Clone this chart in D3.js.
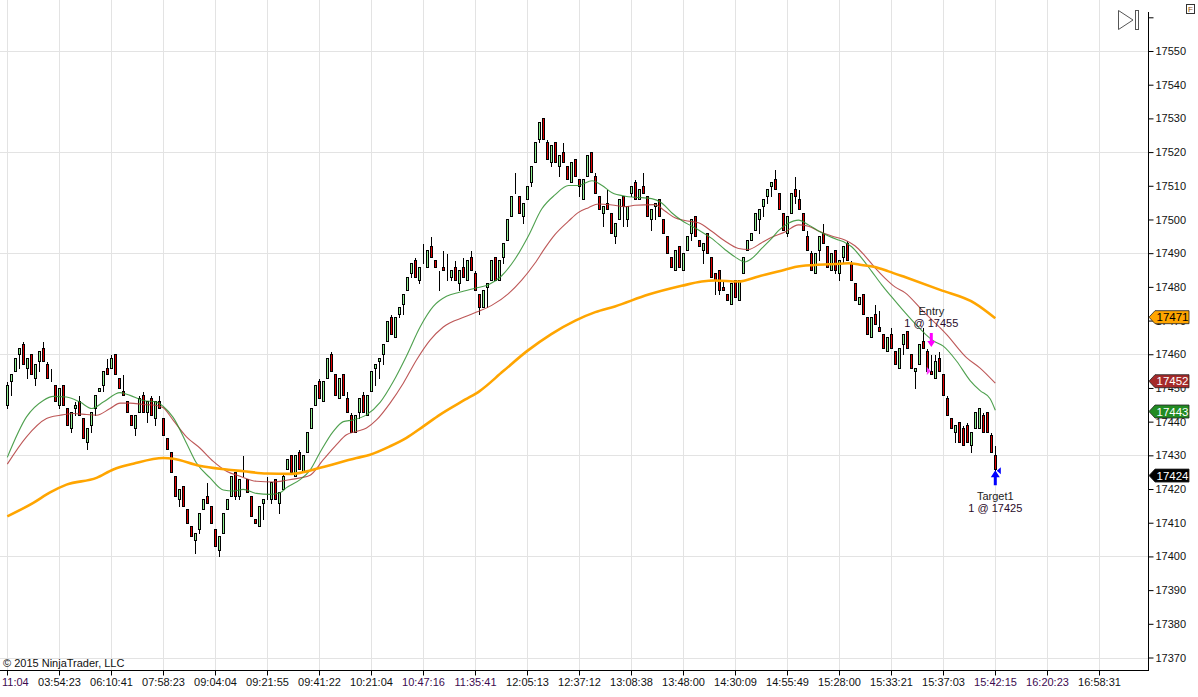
<!DOCTYPE html>
<html>
<head>
<meta charset="utf-8">
<script src="https://cdn.jsdelivr.net/npm/d3@7"></script>
<style>
  html, body { margin: 0; padding: 0; background: #fff; }
  svg { display: block; font-family: "Liberation Sans", Arial, sans-serif; }
</style>
</head>
<body>
<svg id="chart" width="1198" height="697"></svg>
<script>
// bar-by-bar prices (YM, 1 point ticks)
const opens = [
  17445,17452,17455,17460,17463,17456,17460,17453,17458,17462,
  17457,17452,17451,17445,17451,17444,17438,17444,17446,17441,
  17434,17439,17444,17449,17451,17456,17456,17460,17453,17449,
  17446,17442,17438,17443,17448,17443,17447,17441,17446,17441,
  17435,17431,17424,17417,17421,17414,17409,17405,17408,17414,
  17418,17415,17408,17402,17407,17414,17418,17425,17418,17424,
  17423,17418,17411,17409,17416,17418,17417,17423,17416,17420,
  17426,17430,17424,17431,17425,17431,17438,17445,17452,17446,
  17453,17460,17454,17447,17454,17447,17442,17437,17443,17448,
  17442,17449,17456,17458,17460,17464,17471,17465,17472,17475,
  17479,17484,17488,17482,17487,17486,17492,17488,17485,17486,
  17485,17483,17486,17481,17486,17482,17489,17484,17478,17474,
  17480,17482,17489,17482,17489,17494,17501,17508,17507,17501,
  17506,17511,17517,17524,17530,17523,17517,17523,17516,17520,
  17516,17511,17518,17512,17506,17513,17520,17513,17507,17502,
  17505,17502,17495,17500,17507,17500,17508,17511,17506,17510,
  17507,17500,17504,17506,17500,17495,17489,17485,17492,17485,
  17491,17496,17501,17494,17491,17496,17489,17484,17485,17480,
  17478,17475,17482,17476,17484,17491,17494,17497,17500,17504,
  17507,17510,17512,17508,17502,17496,17502,17509,17506,17502,
  17495,17490,17484,17491,17496,17492,17485,17491,17484,17489,
  17493,17487,17481,17475,17478,17471,17465,17472,17468,17466,
  17461,17466,17461,17456,17463,17467,17460,17455,17457,17464,
  17461,17455,17453,17459,17454,17447,17441,17437,17440,17438,
  17439,17433,17438,17438,17442,17443,17436,17430
];
const highs = [
  17452,17454,17459,17462,17464,17459,17460,17457,17461,17464,
  17458,17456,17451,17450,17451,17444,17443,17446,17448,17441,
  17438,17443,17448,17450,17455,17459,17460,17460,17453,17454,
  17446,17442,17442,17448,17449,17446,17448,17446,17448,17441,
  17435,17431,17424,17420,17421,17414,17409,17407,17413,17417,
  17422,17415,17408,17406,17413,17417,17424,17425,17423,17430,
  17423,17418,17411,17415,17417,17424,17422,17423,17419,17425,
  17429,17430,17430,17432,17430,17437,17444,17451,17453,17452,
  17459,17461,17454,17453,17454,17449,17443,17442,17447,17449,
  17448,17455,17457,17459,17463,17470,17472,17471,17474,17478,
  17483,17487,17489,17486,17493,17491,17495,17488,17485,17491,
  17490,17485,17488,17485,17489,17488,17491,17485,17478,17479,
  17481,17488,17489,17488,17493,17500,17507,17514,17507,17505,
  17510,17516,17523,17529,17530,17524,17522,17523,17519,17523,
  17516,17517,17518,17512,17512,17519,17520,17514,17507,17504,
  17509,17502,17499,17506,17507,17504,17510,17512,17509,17514,
  17507,17503,17505,17506,17500,17495,17489,17491,17492,17490,
  17495,17500,17501,17494,17493,17496,17489,17484,17485,17482,
  17478,17481,17482,17482,17489,17494,17496,17502,17503,17506,
  17509,17511,17515,17508,17502,17501,17508,17513,17509,17502,
  17497,17491,17490,17495,17499,17492,17490,17491,17488,17492,
  17494,17488,17481,17477,17478,17471,17471,17475,17473,17466,
  17465,17468,17461,17462,17466,17467,17460,17456,17463,17468,
  17462,17460,17460,17461,17454,17448,17441,17439,17440,17439,
  17440,17437,17443,17444,17443,17443,17437,17433
];
const lows = [
  17444,17448,17455,17456,17457,17453,17454,17451,17455,17458,
  17453,17452,17446,17444,17445,17439,17437,17442,17442,17435,
  17432,17437,17442,17449,17449,17454,17456,17454,17450,17448,
  17443,17439,17436,17443,17443,17440,17442,17439,17444,17436,
  17432,17425,17418,17415,17415,17410,17406,17401,17407,17414,
  17416,17410,17403,17400,17407,17414,17418,17417,17417,17424,
  17419,17412,17410,17409,17411,17417,17416,17417,17413,17420,
  17426,17425,17424,17426,17425,17431,17438,17445,17447,17446,
  17453,17455,17448,17447,17448,17443,17437,17437,17441,17443,
  17442,17449,17451,17453,17457,17464,17466,17465,17471,17472,
  17479,17483,17483,17481,17487,17486,17489,17486,17479,17485,
  17482,17482,17482,17479,17483,17482,17485,17479,17472,17474,
  17474,17482,17482,17482,17487,17494,17501,17508,17502,17499,
  17506,17510,17517,17523,17524,17518,17516,17517,17513,17517,
  17512,17511,17513,17507,17506,17513,17514,17508,17503,17498,
  17503,17496,17493,17500,17498,17498,17507,17506,17506,17508,
  17501,17497,17500,17501,17496,17490,17486,17485,17486,17485,
  17491,17494,17495,17492,17487,17490,17483,17478,17478,17479,
  17476,17475,17477,17476,17484,17491,17494,17497,17496,17501,
  17505,17507,17509,17503,17497,17495,17502,17505,17503,17497,
  17491,17485,17484,17488,17493,17486,17485,17484,17482,17487,
  17488,17482,17476,17475,17472,17466,17465,17469,17467,17462,
  17461,17462,17457,17456,17460,17462,17456,17450,17457,17462,
  17455,17454,17453,17455,17448,17442,17438,17434,17434,17433,
  17434,17431,17438,17438,17437,17437,17431,17425
];
const closes = [
  17451,17454,17459,17462,17457,17459,17454,17457,17461,17458,
  17453,17452,17446,17450,17445,17439,17443,17445,17442,17435,
  17438,17443,17448,17450,17455,17454,17459,17454,17450,17448,
  17443,17439,17442,17447,17443,17446,17442,17446,17444,17436,
  17432,17425,17418,17420,17415,17410,17406,17407,17413,17417,
  17416,17410,17403,17406,17413,17417,17424,17418,17423,17424,
  17419,17412,17410,17415,17417,17418,17422,17417,17419,17424,
  17429,17425,17430,17426,17430,17437,17444,17451,17447,17452,
  17459,17455,17448,17453,17448,17443,17437,17442,17447,17443,
  17448,17455,17457,17459,17463,17470,17466,17471,17474,17478,
  17483,17487,17483,17486,17487,17491,17489,17486,17485,17485,
  17485,17485,17482,17485,17483,17488,17485,17479,17474,17479,
  17481,17488,17482,17488,17493,17500,17507,17508,17502,17505,
  17510,17516,17523,17529,17524,17518,17522,17517,17519,17517,
  17512,17517,17513,17510,17512,17519,17514,17508,17503,17504,
  17503,17496,17499,17506,17504,17504,17510,17506,17509,17508,
  17501,17503,17505,17501,17496,17490,17486,17491,17486,17490,
  17495,17500,17495,17492,17493,17490,17483,17482,17479,17479,
  17476,17481,17477,17482,17489,17494,17496,17502,17503,17506,
  17509,17511,17509,17503,17497,17501,17508,17507,17503,17497,
  17491,17485,17490,17495,17493,17486,17490,17485,17488,17492,
  17488,17482,17476,17477,17472,17466,17471,17469,17467,17462,
  17465,17462,17457,17462,17466,17462,17456,17456,17463,17462,
  17455,17454,17458,17455,17448,17442,17438,17439,17434,17433,
  17434,17437,17443,17444,17437,17437,17431,17426
];

// moving averages, [bar index, value] read at points along each line
const fastMA = [
  [0,17429.4],[4.8,17441.4],[9,17446.3],[11.5,17447.5],[14.8,17447.3],[18.2,17445.8],
  [21.1,17443.9],[24,17445.8],[28.2,17448.6],[30.7,17447.8],[34,17446.3],[37.3,17445.8],
  [39,17444.5],[41.5,17441.2],[44.8,17433.6],[47.3,17427.7],[50.7,17423.3],[54,17419.7],
  [56.5,17419.4],[59,17419.9],[62.3,17418.7],[65.7,17418.4],[68.2,17418.9],[69.8,17420.4],
  [73.2,17422.8],[75.7,17425.6],[78.2,17430.9],[81.5,17437.1],[84,17440],[86.5,17440.5],
  [89.8,17442],[93.2,17445.7],[96.5,17451.9],[99.8,17459.5],[103.2,17468.1],[106.5,17474.2],
  [109.8,17477.2],[113,17478.4],[116.9,17479.6],[120.3,17480.6],[123.6,17483.3],[126.9,17488.2],
  [130.3,17495.2],[133.6,17503.1],[136.9,17507.3],[140.3,17510.1],[142.8,17510.1],[146.2,17511.5],
  [148.7,17510.1],[151.2,17507.9],[154.5,17506.9],[156.9,17506.6],[161.1,17506.2],[163.6,17504.9],
  [166.1,17502],[168.6,17499.7],[171.1,17498],[173.6,17496.3],[176.1,17494.4],[179.4,17491.1],
  [181.9,17488.9],[184.4,17487.4],[186.1,17488.4],[188.6,17491.4],[191.1,17494.4],[192.8,17496.7],
  [195.3,17498.9],[197.8,17499.8],[200.3,17498.4],[202.8,17496.6],[205.3,17495.1],[207.8,17493.9],
  [209.4,17493.2],[211.1,17491.9],[213.6,17488.5],[216.1,17484.6],[218.6,17480.6],[221.1,17477],
  [224.4,17472.4],[227,17469],[229.5,17466],[231.5,17464],[234,17462.4],[237.3,17458],
  [240.7,17452.2],[243.2,17449.2],[245.7,17446.8],[247,17443.4]
];
const slowMA = [
  [0,17427.4],[4.8,17435.5],[9.8,17440.9],[13.2,17441.9],[16.5,17442.4],[19.8,17442.1],
  [22.3,17441.9],[25.7,17443.9],[28.2,17445.5],[30.7,17445.5],[34,17445.1],[37.3,17444.8],
  [39,17444.1],[41.5,17440.4],[44.8,17435.5],[48.2,17432.1],[51.5,17428.2],[54.8,17425.3],
  [58.2,17423.8],[62.3,17422.3],[66.5,17422.1],[69.8,17422.6],[73.2,17423.3],[75.7,17424.1],
  [79,17428.7],[82.3,17433.2],[84.8,17436.1],[87.3,17437.1],[89.8,17438.1],[92.3,17440.5],
  [95.7,17445.5],[99,17451.4],[102.3,17458.3],[105.7,17464.2],[109,17468.1],[114.4,17471.1],
  [117.5,17472.6],[121.1,17474.5],[125.3,17478],[128.6,17482],[131.9,17487],[134.4,17491.5],
  [136.9,17495.5],[140.3,17499.5],[142.8,17502.1],[145.3,17503.5],[147.8,17504.6],[151.2,17504.3],
  [154.5,17503.8],[156.9,17504.2],[161.9,17504.4],[164.4,17502.5],[166.9,17500.5],[169.4,17499.7],
  [172.8,17499],[176.1,17496.5],[179.4,17493.6],[182.8,17491.4],[185.3,17491.1],[188.6,17493.1],
  [191.1,17494.7],[194.4,17496.3],[197.8,17498.4],[200.3,17498],[202.8,17496.6],[206.1,17495.1],
  [209.4,17493.9],[211.9,17492.2],[214.4,17489.2],[216.9,17485.7],[219.4,17482.6],[221.9,17480],
  [224.4,17478.3],[229,17472.7],[234.8,17465.9],[239.8,17459],[243.2,17455.9],[247,17451.4]
];
const longMA = [
  [0,17411.9],[6.5,17415.9],[10.7,17419],[14.8,17421.3],[22.3,17423.3],[26.5,17425.8],
  [31.5,17427.5],[39,17429.2],[41.5,17429],[48,17426.9],[54.8,17425.8],[59,17425.3],
  [64.8,17424.6],[70.7,17424.5],[73.2,17424.8],[78.2,17426.3],[87.3,17429.2],[90.7,17430.2],
  [95.7,17432.7],[99.8,17435.2],[104,17438.6],[108.2,17442.1],[114.4,17446.5],[118,17449],
  [124,17455],[130,17461],[136,17466],[142,17470],[147,17472.5],[151.9,17474.2],
  [160.3,17477.7],[168.6,17480.3],[173.6,17481.6],[176.9,17481.9],[182.8,17481.6],[187.8,17483.1],
  [194.4,17485.1],[196.9,17485.9],[201.9,17486.5],[206.9,17486.8],[210.3,17487],[213.6,17486.5],
  [216.9,17485.9],[220.3,17484.6],[224.4,17482.9],[233.2,17479.1],[241.8,17475.2],[247,17470.7]
];

// axis labels
const timeLabels = [
  "11:04","03:54:23","06:10:41","07:58:23","09:04:04","09:21:55","09:41:22","10:21:04",
  "10:47:16","11:35:41","12:05:13","12:37:12","13:08:38","13:48:00","14:30:09","14:55:49",
  "15:28:00","15:33:21","15:37:03","15:42:15","16:20:23","16:58:31"
];
const purpleTimeLabels = ["11:04","10:47:16","11:35:41","15:42:15","16:20:23"];
const barsPerTick = 13;
const priceTicks = [17370,17380,17390,17400,17410,17420,17430,17440,17450,17460,17470,17480,17490,17500,17510,17520,17530,17540,17550,17560];
const priceGrid = [17370,17400,17430,17460,17490,17520,17550];

// right-edge price markers
const markerValues = [17471, 17452, 17443, 17424];
const markerFills = ["#ffa500", "#a52a2a", "#228b22", "#000000"];
const markerText = ["#000", "#fff", "#fff", "#fff"];

// executions
const entryBar = 231, entryPrice = 17455;
const exitBar = 247, exitPrice = 17425;

const svg = d3.select("#chart");
const plotRight = 1148, axisY = 670;

const x = d3.scaleLinear().domain([0, 273]).range([7.3, 1099.3]);
const y = d3.scaleLinear().domain([17370, 17550]).range([657.5, 51]);
const px = (i) => Math.round(x(i)) + 0.5;
const py = (v) => Math.round(y(v)) + 0.5;
const tickIdx = timeLabels.map((_, i) => i * barsPerTick);

// grid
const grid = svg.append("g").attr("shape-rendering", "crispEdges");
grid.selectAll(".vg").data(tickIdx).join("line")
  .attr("x1", d => px(d)).attr("x2", d => px(d))
  .attr("y1", 0).attr("y2", axisY)
  .attr("stroke", "#e3e3e3");
grid.selectAll(".hg").data(priceGrid).join("line")
  .attr("x1", 0).attr("x2", plotRight)
  .attr("y1", d => py(d)).attr("y2", d => py(d))
  .attr("stroke", "#e3e3e3");

// candles
const bars = d3.range(opens.length);
const candles = svg.append("g").attr("shape-rendering", "crispEdges");
candles.selectAll(".wick").data(bars).join("line")
  .attr("x1", i => px(i)).attr("x2", i => px(i))
  .attr("y1", i => py(highs[i])).attr("y2", i => py(lows[i]))
  .attr("stroke", "#000");
candles.selectAll(".body").data(bars).join("rect")
  .attr("x", i => px(i) - 1)
  .attr("y", i => py(Math.max(opens[i], closes[i])))
  .attr("width", 2)
  .attr("height", i => Math.abs(py(opens[i]) - py(closes[i])))
  .attr("fill", i => closes[i] > opens[i] ? "#90ee90" : closes[i] < opens[i] ? "#e00000" : "#000")
  .attr("stroke", "#000");

// moving averages
const line = d3.line().x(d => x(d[0])).y(d => y(d[1])).curve(d3.curveMonotoneX);
svg.append("path").datum(slowMA).attr("d", line)
  .attr("fill", "none").attr("stroke", "#b23a3a").attr("stroke-width", 1.1).attr("stroke-opacity", 0.85);
svg.append("path").datum(fastMA).attr("d", line)
  .attr("fill", "none").attr("stroke", "#2f8f2f").attr("stroke-width", 1.1).attr("stroke-opacity", 0.85);
svg.append("path").datum(longMA).attr("d", line)
  .attr("fill", "none").attr("stroke", "#ffa500").attr("stroke-width", 2.6);

// axes
const yAxis = svg.append("g")
  .attr("transform", `translate(${plotRight + 0.5},0)`)
  .call(d3.axisRight(y).tickValues(priceTicks).tickSize(5).tickPadding(2)
    .tickFormat(d => d === 17560 ? "" : d));
yAxis.select(".domain").remove();
yAxis.selectAll("text").attr("font-size", 11).attr("fill", "#111");
yAxis.attr("font-family", null);

const xAxis = svg.append("g")
  .attr("transform", `translate(0,${axisY + 0.5})`)
  .call(d3.axisBottom(x).tickValues(tickIdx).tickSize(5).tickPadding(3)
    .tickFormat((d, i) => timeLabels[i]));
xAxis.select(".domain").remove();
xAxis.selectAll(".tick").attr("transform", d => `translate(${px(d)},0)`);
xAxis.selectAll("text").attr("font-size", 11)
  .attr("fill", (d, i) => purpleTimeLabels.includes(timeLabels[i]) ? "#3d0a50" : "#111");
// first label sits against the left edge, so it ends where a centred full label would
xAxis.selectAll("text").filter((d, i) => i === 0)
  .attr("text-anchor", "start").attr("x", 2 - px(0));
xAxis.attr("font-family", null);

svg.append("line").attr("x1", plotRight + 0.5).attr("x2", plotRight + 0.5)
  .attr("y1", 12).attr("y2", axisY + 1).attr("stroke", "#000");
svg.append("line").attr("x1", 0).attr("x2", plotRight + 1)
  .attr("y1", axisY + 0.5).attr("y2", axisY + 0.5).attr("stroke", "#000");

// right price markers
const markers = svg.append("g");
markerValues.forEach((v, k) => {
  const cy = y(v);
  markers.append("path")
    .attr("d", `M${plotRight + 1},${cy} L${plotRight + 7},${cy - 6.5} L${plotRight + 41},${cy - 6.5} L${plotRight + 41},${cy + 6.5} L${plotRight + 7},${cy + 6.5} Z`)
    .attr("fill", markerFills[k]).attr("stroke", "#222").attr("stroke-width", 0.8);
  markers.append("text")
    .attr("x", plotRight + 8.5).attr("y", cy + 4)
    .attr("font-size", 11.5).attr("fill", markerText[k])
    .text(v);
});

// entry annotation
const ex = x(entryBar);
svg.append("text").attr("x", ex).attr("y", 315).attr("text-anchor", "middle")
  .attr("font-size", 11).attr("fill", "#222").text("Entry");
svg.append("text").attr("x", ex).attr("y", 327).attr("text-anchor", "middle")
  .attr("font-size", 11).attr("fill", "#2a0a2a").text(`1 @ ${entryPrice}`);
svg.append("path")
  .attr("d", `M${ex - 1.5},${y(entryPrice) - 38} h3 v8 h2.5 l-4,6 l-4,-6 h2.5 Z`)
  .attr("fill", "#ff00ff");
svg.append("path")
  .attr("d", `M${ex - 4.5},${y(entryPrice) - 4} l4,4 l-4,4 Z`)
  .attr("fill", "#ff40ff");

// target annotation
const tx = x(exitBar);
svg.append("path")
  .attr("d", `M${tx - 1.5},${y(exitPrice) + 13} v-8 h-3 l4.5,-7 l4.5,7 h-3 v8 Z`)
  .attr("fill", "#0000ff");
svg.append("path")
  .attr("d", `M${tx + 5.5},${y(exitPrice) - 5} l-4,3.5 l4,3.5 Z`)
  .attr("fill", "#0000ff");
svg.append("text").attr("x", tx).attr("y", 500).attr("text-anchor", "middle")
  .attr("font-size", 11).attr("fill", "#222").text("Target1");
svg.append("text").attr("x", tx).attr("y", 512).attr("text-anchor", "middle")
  .attr("font-size", 11).attr("fill", "#2a0a2a").text(`1 @ ${exitPrice}`);

// copyright
svg.append("text").attr("x", 3).attr("y", 667).attr("font-size", 11)
  .attr("fill", "#111").text("© 2015 NinjaTrader, LLC");

// top right controls
svg.append("path").attr("d", "M1118.5,10.5 L1133,20 L1118.5,29.5 Z")
  .attr("fill", "none").attr("stroke", "#555");
svg.append("rect").attr("x", 1135.5).attr("y", 10.5).attr("width", 3).attr("height", 19)
  .attr("fill", "none").attr("stroke", "#555");
svg.append("rect").attr("x", 1186.5).attr("y", 4.5).attr("width", 8).attr("height", 9)
  .attr("fill", "#fff").attr("stroke", "#333");
svg.append("text").attr("x", 1190.5).attr("y", 12).attr("text-anchor", "middle")
  .attr("font-size", 8).attr("fill", "#8a4a00").text("F");
</script>
</body>
</html>
